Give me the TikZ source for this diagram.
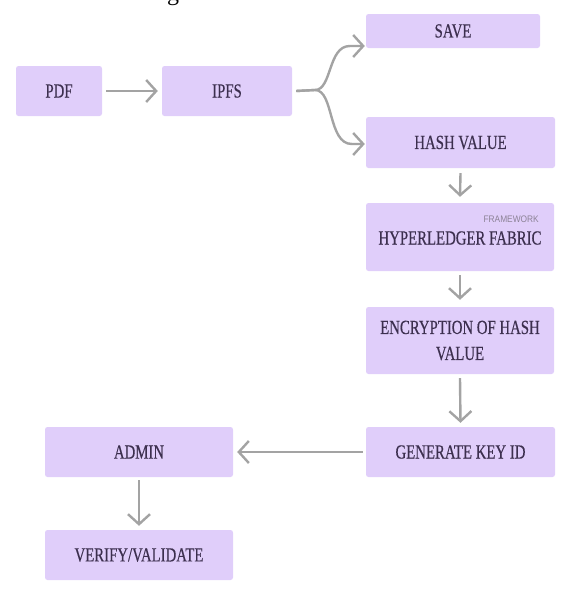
\documentclass[tikz,border=0pt]{standalone}
\usepackage{fontspec}
\setmainfont{Liberation Serif}
\newfontfamily\boxfont[FakeStretch=0.74,FakeBold=0.4]{Liberation Serif}
\newfontfamily\tagfont[FakeStretch=0.88]{Liberation Sans}
\usetikzlibrary{arrows.meta}
\definecolor{boxfill}{RGB}{224,206,250}
\definecolor{boxtext}{RGB}{60,47,78}
\definecolor{arrowgray}{RGB}{163,163,163}
\definecolor{taggray}{RGB}{140,130,150}
\tikzset{
  flowbox/.style={draw=none, fill=boxfill, rounded corners=2.5pt, inner sep=0pt,
    text=boxtext, font=\boxfont\fontsize{20}{26}\selectfont, align=center},
  arr/.style={draw=arrowgray, line width=2.4pt,
    -{Straight Barb[length=10pt,width=22pt,line width=2.4pt]}},
}
\begin{document}
\begin{tikzpicture}[x=1pt,y=-1pt]
\useasboundingbox (0,0) rectangle (565,592);
% cropped caption fragment at the top
\node[anchor=base, inner sep=0pt, font=\fontsize{24}{24}\selectfont] (frag) at (173,0) {g};
% boxes
\node[flowbox, minimum width=86pt, minimum height=50pt] (pdf) at (59,91) {PDF};
\node[flowbox, minimum width=130pt, minimum height=50pt] (ipfs) at (227,91) {IPFS};
\node[flowbox, minimum width=174pt, minimum height=34pt] (save) at (453,31) {SAVE};
\node[flowbox, minimum width=189pt, minimum height=51pt] (hash) at (460.5,142.5) {HASH VALUE};
\node[flowbox, minimum width=188pt, minimum height=68pt] (hyper) at (460,237) {};
\node[text=boxtext, font=\boxfont\fontsize{20}{26}\selectfont, inner sep=0pt] (hypertext) at (460,238) {HYPERLEDGER FABRIC};
\node[anchor=east, text=taggray, font=\tagfont\fontsize{9.5}{10}\selectfont, inner sep=0pt] (tag) at (539,219) {FRAMEWORK};
\node[flowbox, minimum width=188pt, minimum height=67pt] (enc) at (460,340.5) {ENCRYPTION OF HASH\\VALUE};
\node[flowbox, minimum width=189pt, minimum height=50pt] (gen) at (460.5,452) {GENERATE KEY ID};
\node[flowbox, minimum width=188pt, minimum height=50pt] (admin) at (139,452) {ADMIN};
\node[flowbox, minimum width=188pt, minimum height=50pt] (verify) at (139,555) {VERIFY/VALIDATE};
% connectors
\coordinate (junc) at (315,90);
\draw[arr] ([xshift=4pt]pdf.east) -- ([xshift=-4pt]ipfs.west);
\draw[arr] ([xshift=4pt]ipfs.east) -- (junc) .. controls +(17,0) and +(-22,0) .. ([xshift=-16pt,yshift=-15pt]save.west) -- ([xshift=-1pt,yshift=-15pt]save.west);
\draw[arr] ([xshift=4pt]ipfs.east) -- (junc) .. controls +(19,0) and +(-24,0) .. ([xshift=-14pt,yshift=-1.5pt]hash.west) -- ([xshift=-1pt,yshift=-1.5pt]hash.west);
\draw[arr] ([yshift=-5pt]hash.south) -- ([yshift=6pt]hyper.north);
\draw[arr] ([yshift=-4pt]hyper.south) -- ([yshift=7pt]enc.north);
\draw[arr] ([yshift=-4pt]enc.south) -- ([yshift=4pt]gen.north);
\draw[arr] ([xshift=-3pt]gen.west) -- ([xshift=4pt]admin.east);
\draw[arr] ([yshift=-3pt]admin.south) -- ([yshift=4pt]verify.north);
\end{tikzpicture}
\end{document}
